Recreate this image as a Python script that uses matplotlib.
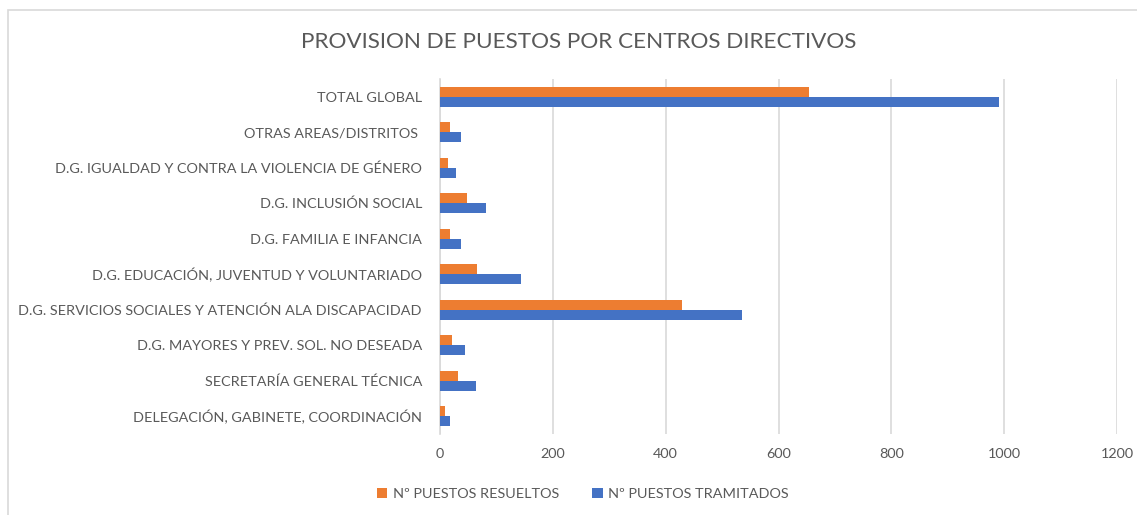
import numpy as np
import matplotlib.pyplot as plt
from matplotlib.patches import Rectangle

plt.rcParams['font.family'] = ['Lato', 'DejaVu Sans']

CATEGORIAS = [
    'TOTAL GLOBAL',
    'OTRAS AREAS/DISTRITOS ',
    'D.G. IGUALDAD Y CONTRA LA VIOLENCIA DE GÉNERO',
    'D.G. INCLUSIÓN SOCIAL',
    'D.G. FAMILIA E INFANCIA',
    'D.G. EDUCACIÓN, JUVENTUD Y VOLUNTARIADO',
    'D.G. SERVICIOS SOCIALES Y ATENCIÓN ALA DISCAPACIDAD',
    'D.G. MAYORES Y PREV. SOL. NO DESEADA',
    'SECRETARÍA GENERAL TÉCNICA',
    'DELEGACIÓN, GABINETE, COORDINACIÓN',
]
RESUELTOS = [654, 18, 14, 47, 17, 66, 429, 21, 32, 9]
TRAMITADOS = [990, 38, 29, 81, 37, 143, 536, 45, 63, 17]
X_TICKS = [0, 200, 400, 600, 800, 1000, 1200]

NARANJA = '#ED7D31'
AZUL = '#4472C4'
TEXTO = '#595959'
REJILLA = '#D9D9D9'

fig = plt.figure(figsize=(11.37, 5.15), dpi=100)
# marco del grafico (solo se ven borde superior e izquierdo)
fig.patches.append(Rectangle((8 / 1137, -0.1), 1.2, (505 / 515) + 0.1,
                             transform=fig.transFigure, fill=False,
                             edgecolor='#D9D9D9', linewidth=1.2))

ax = fig.add_axes([440 / 1137, 1 - 434 / 515, (1117 - 440) / 1137, (434 - 79) / 515])

y = np.arange(len(CATEGORIAS))
h = 0.28
ax.barh(y - h / 2, RESUELTOS, height=h, color=NARANJA, label='Nº PUESTOS RESUELTOS', zorder=3)
ax.barh(y + h / 2, TRAMITADOS, height=h, color=AZUL, label='Nº PUESTOS TRAMITADOS', zorder=3)

ax.set_ylim(len(CATEGORIAS) - 0.5, -0.5)
ax.set_xlim(0, 1200)
ax.set_xticks(X_TICKS)
ax.set_yticks(y)
ax.set_yticklabels(CATEGORIAS)
ax.tick_params(axis='both', length=0, labelsize=10.4, colors=TEXTO)
ax.tick_params(axis='y', pad=13)
ax.tick_params(axis='x', pad=10)
ax.grid(axis='x', color=REJILLA, linewidth=1.2, zorder=0)
for s in ['top', 'right', 'bottom']:
    ax.spines[s].set_visible(False)
ax.spines['left'].set_color(REJILLA)
ax.spines['left'].set_linewidth(1.2)

fig.text(579 / 1137, 1 - 42 / 515, 'PROVISION DE PUESTOS POR CENTROS DIRECTIVOS',
         ha='center', va='center', fontsize=16.2, color=TEXTO)

fig.legend(loc='center', bbox_to_anchor=(583 / 1137, 1 - 494 / 515), ncol=2,
           frameon=False, fontsize=10.4, labelcolor=TEXTO, handlelength=0.7,
           handleheight=0.7, handletextpad=0.4, columnspacing=2.3)

fig.savefig('out.png', dpi=100)
